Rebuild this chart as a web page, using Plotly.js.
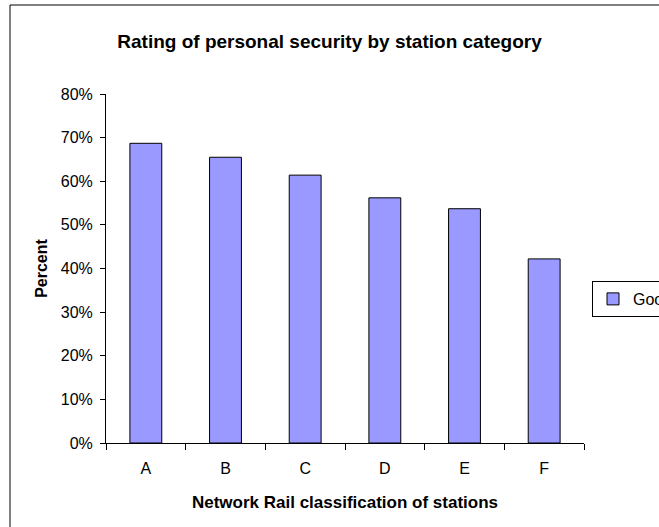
<!DOCTYPE html>
<html>
<head>
<meta charset="utf-8">
<script src="https://cdn.plot.ly/plotly-3.0.1.min.js"></script>
<style>html,body{margin:0;padding:0;background:#fff;}#chart{width:659px;height:527px;}</style>
</head>
<body>
<div id="chart"></div>
<script>
const categories = ["A", "B", "C", "D", "E", "F"];
const goodValues = [0.687, 0.655, 0.614, 0.562, 0.537, 0.422];
const seriesName = "Good";
const yTickVals = [0, 0.1, 0.2, 0.3, 0.4, 0.5, 0.6, 0.7, 0.8];

const fontFamily = "Liberation Sans, Arial, sans-serif";

const trace = {
  type: "bar",
  x: categories,
  y: goodValues,
  name: seriesName,
  marker: { color: "#9999FF", line: { color: "#000000", width: 1 } },
  showlegend: true
};

const layout = {
  width: 659,
  height: 527,
  margin: { l: 106, r: 75, t: 94, b: 84, autoexpand: false },
  paper_bgcolor: "#ffffff",
  plot_bgcolor: "#ffffff",
  font: { family: fontFamily, size: 16, color: "#000" },
  title: {
    text: "<b>Rating of personal security by station category</b>",
    font: { family: fontFamily, size: 19, color: "#000" },
    xref: "container", x: 0.5, xanchor: "center",
    yref: "container", y: 1 - 41 / 527, yanchor: "middle"
  },
  bargap: 0.6,
  xaxis: {
    type: "category",
    showline: true, linecolor: "#000", linewidth: 1,
    ticks: "outside", tickson: "boundaries", ticklen: 6, tickcolor: "#000",
    ticklabelstandoff: 11,
    showgrid: false, zeroline: false,
    tickfont: { family: fontFamily, size: 16 },
    title: { text: "<b>Network Rail classification of stations</b>", font: { family: fontFamily, size: 17 }, standoff: 19 }
  },
  yaxis: {
    range: [0, 0.8],
    tickvals: yTickVals,
    tickformat: ".0%",
    showline: true, linecolor: "#000", linewidth: 1,
    ticks: "outside", ticklen: 5, tickcolor: "#000",
    ticklabelstandoff: 4,
    showgrid: false, zeroline: false,
    tickfont: { family: fontFamily, size: 16 },
    title: { text: "<b>Percent</b>", font: { family: fontFamily, size: 16 }, standoff: 9 }
  },
  showlegend: true,
  legend: {
    xref: "paper", yref: "paper",
    x: (592 - 106) / 478, xanchor: "left",
    y: (443 - 281) / 349, yanchor: "top",
    bordercolor: "#000", borderwidth: 1,
    bgcolor: "#fff",
    font: { family: fontFamily, size: 16 },
    itemwidth: 30
  },
  shapes: [{
    type: "rect", xref: "paper", yref: "paper",
    x0: (10 - 106) / 478, x1: 1.5, y0: -0.3, y1: (443 - 5) / 349,
    line: { color: "#000", width: 1 }, fillcolor: "rgba(0,0,0,0)", layer: "below"
  }]
};

Plotly.newPlot("chart", [trace], layout, { displayModeBar: false, staticPlot: true });
</script>
</body>
</html>
